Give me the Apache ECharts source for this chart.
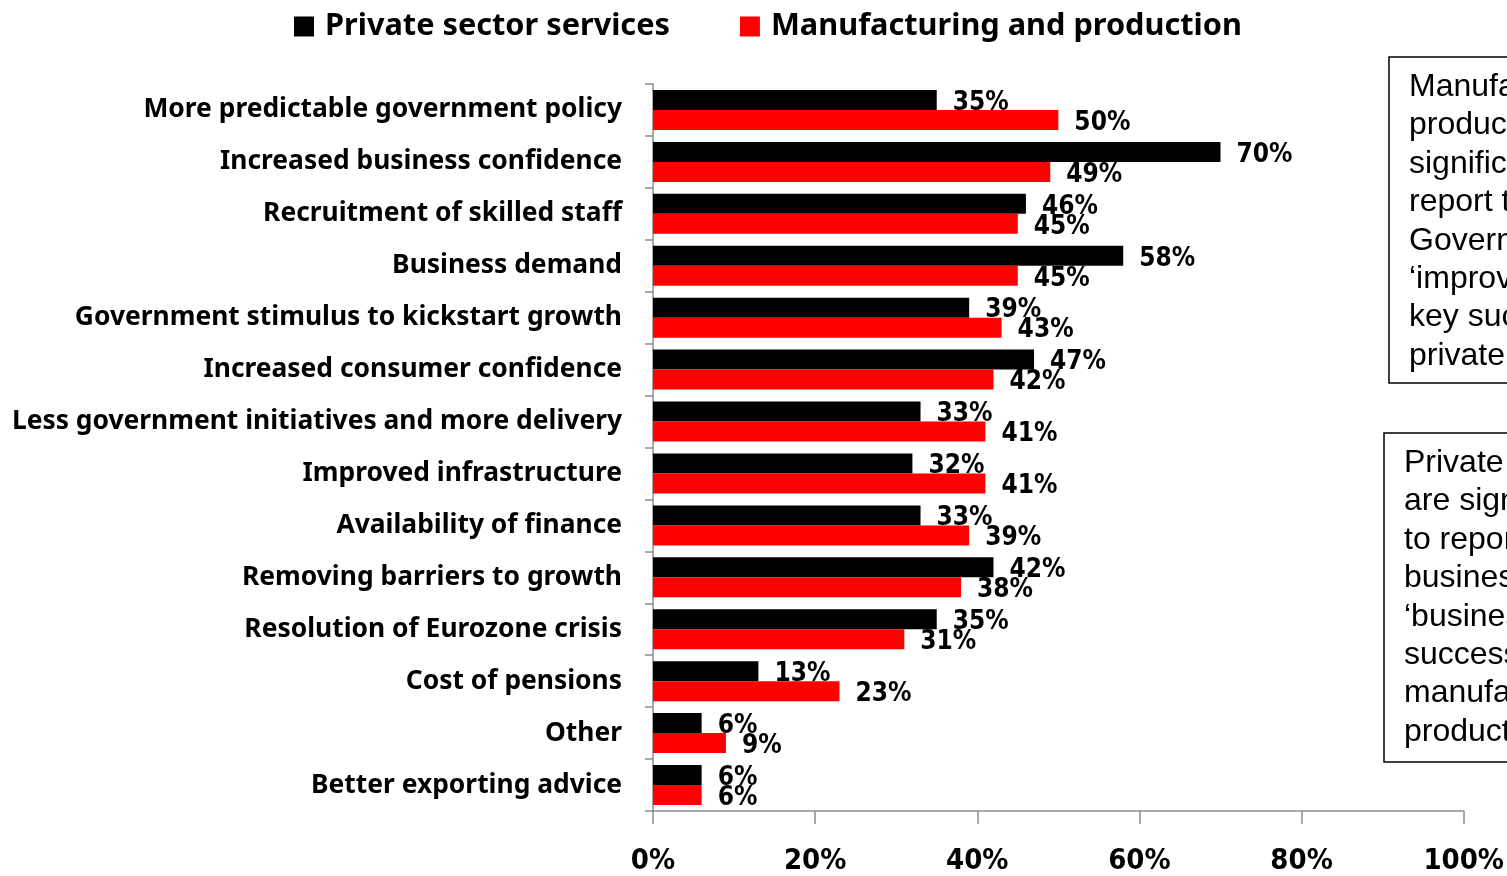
<!DOCTYPE html>
<html>
<head>
<meta charset="utf-8">
<script src="https://cdn.jsdelivr.net/npm/echarts@6/dist/echarts.min.js"></script>
<style>
  html, body { margin: 0; padding: 0; background: #fff; }
  #chart { width: 1507px; height: 876px; }
</style>
</head>
<body>
<div id="chart"></div>
<script>
// Success factors, share of respondents (%)
const categories = [
  'More predictable government policy',
  'Increased business confidence',
  'Recruitment of skilled staff',
  'Business demand',
  'Government stimulus to kickstart growth',
  'Increased consumer confidence',
  'Less government initiatives and more delivery',
  'Improved infrastructure',
  'Availability of finance',
  'Removing barriers to growth',
  'Resolution of Eurozone crisis',
  'Cost of pensions',
  'Other',
  'Better exporting advice'
];
const privateServices = [35, 70, 46, 58, 39, 47, 33, 32, 33, 42, 35, 13, 6, 6];
const manufacturing  = [50, 49, 45, 45, 43, 42, 41, 41, 39, 38, 31, 23, 9, 6];
const seriesNames = ['Private sector services', 'Manufacturing and production'];

const noteManufacturing = [
  'Manufacturing and',
  'production businesses are',
  'significantly more likely to',
  'report that less',
  'Government initiatives and',
  '\u2018improved infrastructure\u2019 are',
  'key success factors than',
  'private sector services'
];
const noteServices = [
  'Private sector services',
  'are significantly more likely',
  'to report increased',
  'business confidence and',
  '\u2018business demand\u2019 as key',
  'success factors than',
  'manufacturing and',
  'production businesses'
];

const labelFont = 'DejaVu Sans Condensed';
const catFont = 'Noto Sans';
const axisGrey = '#8c8c8c';

const chart = echarts.init(document.getElementById('chart'), null, { renderer: 'canvas' });

function barLabel() {
  return {
    show: true,
    position: 'right',
    distance: 16,
    offset: [0, 3],
    formatter: p => p.value + '%',
    color: '#000',
    fontFamily: labelFont,
    fontWeight: 'bold',
    fontSize: 26
  };
}

function noteBox(x, y, h, lines) {
  return {
    type: 'group',
    children: [
      {
        type: 'rect',
        shape: { x: x, y: y, width: 400, height: h },
        style: { fill: '#fff', stroke: '#000', lineWidth: 1.5 }
      },
      {
        type: 'text',
        x: x + 20,
        y: y + 11,
        style: {
          text: lines.join('\n'),
          fill: '#000',
          font: '32px "Liberation Sans", Arial, sans-serif',
          lineHeight: 38.4
        }
      }
    ]
  };
}

chart.setOption({
  animation: false,
  legend: {
    top: 6,
    left: 289,
    itemWidth: 20,
    itemHeight: 20,
    itemGap: 70,
    icon: 'rect',
    textStyle: {
      fontFamily: catFont,
      fontWeight: 'bold',
      fontSize: 30.7,
      color: '#000',
      padding: [0, 0, 0, 6]
    },
    data: seriesNames
  },
  grid: { left: 653, right: 42, top: 84, bottom: 63, containLabel: false },
  xAxis: {
    type: 'value',
    min: 0,
    max: 100,
    interval: 20,
    axisLine: { show: true, lineStyle: { color: axisGrey, width: 1.5 } },
    axisTick: { show: true, length: 13, lineStyle: { color: axisGrey, width: 1.5 } },
    splitLine: { show: false },
    axisLabel: {
      formatter: v => v + '%',
      margin: 36,
      color: '#000',
      fontFamily: labelFont,
      fontWeight: 'bold',
      fontSize: 29
    }
  },
  yAxis: {
    type: 'category',
    inverse: true,
    data: categories,
    axisLine: { show: true, lineStyle: { color: axisGrey, width: 1.5 } },
    axisTick: { show: true, length: 8, inside: false, lineStyle: { color: axisGrey, width: 1.5 } },
    axisLabel: {
      margin: 31,
      color: '#000',
      fontFamily: catFont,
      fontWeight: 'bold',
      fontSize: 26.4,
      lineHeight: 30,
      padding: [5, 0, 0, 0]
    }
  },
  series: [
    {
      name: seriesNames[0],
      type: 'bar',
      data: privateServices,
      barWidth: 20,
      barGap: '0%',
      itemStyle: { color: '#000000' },
      label: barLabel()
    },
    {
      name: seriesNames[1],
      type: 'bar',
      data: manufacturing,
      barWidth: 20,
      barGap: '0%',
      itemStyle: { color: '#ff0000' },
      label: barLabel()
    }
  ],
  graphic: [
    noteBox(1389, 57, 326, noteManufacturing),
    noteBox(1384, 433, 329, noteServices)
  ]
});
</script>
</body>
</html>
